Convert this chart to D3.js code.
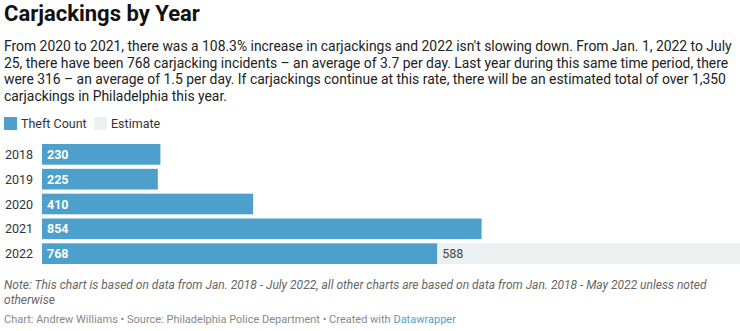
<!DOCTYPE html>
<html>
<head>
<meta charset="utf-8">
<script src="https://cdn.jsdelivr.net/npm/d3@7"></script>
<style>
  body { margin: 0; background: #fff; }
  svg { display: block; font-family: Roboto, "Noto Sans", sans-serif; }
</style>
</head>
<body>
<script>
// data
let years = ["2018", "2019", "2020", "2021", "2022"];
let theftCount = [230, 225, 410, 854, 768];
let estimate = [0, 0, 0, 0, 588];
let seriesNames = ["Theft Count", "Estimate"];
let seriesColors = ["#4d9fcc", "#edf0f0"];

let title = "Carjackings by Year";
let intro = [
  "From 2020 to 2021, there was a 108.3% increase in carjackings and 2022 isn't slowing down. From Jan. 1, 2022 to July",
  "25, there have been 768 carjacking incidents \u2013 an average of 3.7 per day. Last year during this same time period, there",
  "were 316 \u2013 an average of 1.5 per day. If carjackings continue at this rate, there will be an estimated total of over 1,350",
  "carjackings in Philadelphia this year."
];
let notes = [
  "Note: This chart is based on data from Jan. 2018 - July 2022, all other charts are based on data from Jan. 2018 - May 2022 unless noted",
  "otherwise"
];

let width = 740,
    height = 331;

let svg = d3.select("body")
    .append("svg")
    .attr("width", width)
    .attr("height", height);

// header
svg.append("text")
    .attr("x", 4)
    .attr("y", 21)
    .text(title)
    .style("font-size", "22px")
    .style("font-weight", "700")
    .style("fill", "#111");

svg.append("g")
    .selectAll("text")
    .data(intro)
    .enter()
    .append("text")
    .attr("x", 4)
    .attr("y", function(d, i) { return 51 + i * 16.7; })
    .text(function(d) { return d; })
    .style("font-size", "13.9px")
    .style("fill", "#222");

// legend
let legend = svg.append("g")
    .selectAll("g")
    .data(seriesNames)
    .enter()
    .append("g")
    .attr("transform", function(d, i) { return "translate(" + [4, 94][i] + ",117)"; });

legend.append("rect")
    .attr("width", 13)
    .attr("height", 13)
    .style("fill", function(d, i) { return seriesColors[i]; });

legend.append("text")
    .attr("x", 17)
    .attr("y", 10.5)
    .text(function(d) { return d; })
    .style("font-size", "12.5px")
    .style("fill", "#333");

// bars
let rows = years.map(function(y, i) {
  return { year: y, theft: theftCount[i], estimate: estimate[i] };
});

let stack = d3.stack().keys(["theft", "estimate"]);
let layers = stack(rows);

let x = d3.scaleLinear()
    .domain([0, d3.max(rows, function(d) { return d.theft + d.estimate; })])
    .range([42, width]);

let y = d3.scaleBand()
    .domain(years)
    .range([144, 264])
    .paddingInner(4 / 24)
    .paddingOuter(0);

svg.append("g")
    .selectAll("g")
    .data(layers)
    .enter()
    .append("g")
    .style("fill", function(d, i) { return seriesColors[i]; })
    .selectAll("rect")
    .data(function(d) { return d; })
    .enter()
    .filter(function(d) { return d[1] > d[0]; })
    .append("rect")
    .attr("x", function(d) { return x(d[0]); })
    .attr("y", function(d) { return y(d.data.year); })
    .attr("width", function(d) { return x(d[1]) - x(d[0]); })
    .attr("height", y.bandwidth());

// year labels
svg.append("g")
    .selectAll("text")
    .data(years)
    .enter()
    .append("text")
    .attr("x", 5)
    .attr("y", function(d) { return y(d) + y.bandwidth() / 2 + 4.5; })
    .text(function(d) { return d; })
    .style("font-size", "12.5px")
    .style("fill", "#333");

// value labels
svg.append("g")
    .selectAll("text")
    .data(rows)
    .enter()
    .append("text")
    .attr("x", x(0) + 5)
    .attr("y", function(d) { return y(d.year) + y.bandwidth() / 2 + 4.5; })
    .text(function(d) { return d.theft; })
    .style("font-size", "12.5px")
    .style("font-weight", "700")
    .style("fill", "#fff");

svg.append("g")
    .selectAll("text")
    .data(rows.filter(function(d) { return d.estimate > 0; }))
    .enter()
    .append("text")
    .attr("x", function(d) { return x(d.theft) + 5; })
    .attr("y", function(d) { return y(d.year) + y.bandwidth() / 2 + 4.5; })
    .text(function(d) { return d.estimate; })
    .style("font-size", "12.5px")
    .style("fill", "#444");

// notes and footer
svg.append("g")
    .selectAll("text")
    .data(notes)
    .enter()
    .append("text")
    .attr("x", 4)
    .attr("y", function(d, i) { return 289 + i * 15; })
    .text(function(d) { return d; })
    .style("font-size", "12px")
    .style("font-style", "italic")
    .style("fill", "#666");

let footer = svg.append("text")
    .attr("x", 4)
    .attr("y", 323)
    .style("font-size", "11px")
    .style("fill", "#888");

footer.append("tspan").text("Chart: Andrew Williams \u2022 Source: Philadelphia Police Department \u2022 Created with ");
footer.append("tspan").text("Datawrapper").style("fill", "#4d9fcc");
</script>
</body>
</html>
